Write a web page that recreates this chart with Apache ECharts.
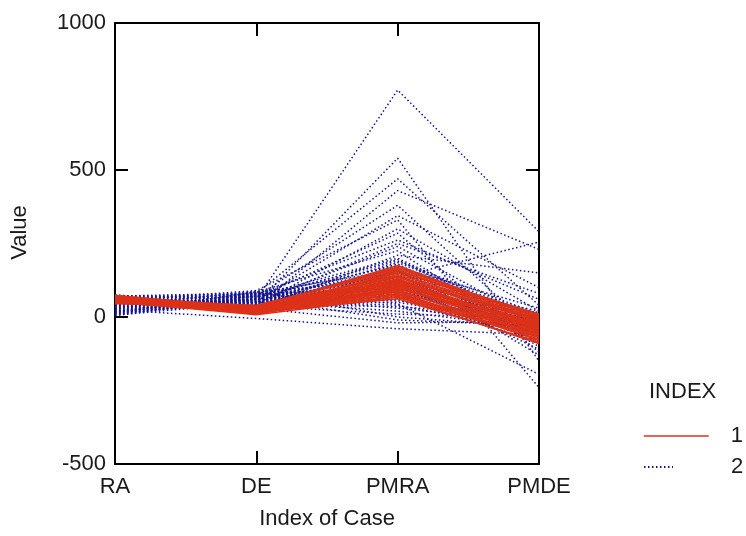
<!DOCTYPE html>
<html>
<head>
<meta charset="utf-8">
<script src="https://cdn.jsdelivr.net/npm/echarts@6/dist/echarts.min.js"></script>
<style>
html,body{margin:0;padding:0;background:#fff;}
#chart{width:746px;height:536px;}
</style>
</head>
<body>
<div id="chart"></div>
<script>
var categories = ['RA', 'DE', 'PMRA', 'PMDE'];
var yTicks = [-500, 0, 500, 1000];

// Group 1 (INDEX = 1), one entry per case
var g1RA   = [62, 58, 65, 55, 70, 60, 52, 67, 63, 57, 72, 48, 61, 66, 54, 59, 69, 64, 50, 56, 68, 62, 45, 71, 58, 60, 53, 66, 63, 57, 49, 74, 61, 55, 65, 59];
var g1DE   = [22, 18, 30, 12, 25, 35, 15, 28, 20, 10, 32, 24, 16, 38, 27, 14, 21, 33, 19, 26, 12, 29, 36, 17, 23, 31, 8, 25, 34, 20, 13, 28, 18, 40, 22, 15];
var g1PMRA = [95, 120, 150, 80, 110, 165, 70, 135, 100, 88, 175, 125, 62, 140, 105, 92, 155, 115, 75, 130, 98, 145, 160, 85, 118, 108, 68, 128, 170, 102, 78, 138, 112, 158, 90, 122];
var g1PMDE = [-20, -45, -10, -60, -30, 5, -75, -25, -40, -55, -5, -35, -85, -15, -50, -65, 10, -28, -70, -38, -48, -12, -2, -80, -33, -22, -90, -42, 0, -58, -68, -18, -52, -8, -62, -26];

// Group 2 (INDEX = 2)
var g2RA   = [35, 60, 20, 72, 45, 10, 55, 30, 68, 15, 50, 40, 75, 25, 62, 5, 48, 33, 70, 18, 58, 42, 28, 65, 12, 52, 38, 74, 22, 46, 8, 60, 30, 55, 16, 66, 40, 26, 72, 50, 14, 36, 62, 20, 44, 68, 28, 56, 10, 32, 48, 24, 64, 38, 54, 18, 70, 42, 6, 58];
var g2DE   = [60, 45, 80, 35, 70, 55, 90, 40, 65, 75, 50, 85, 30, 62, 48, 72, 38, 58, 82, 44, 68, 52, 78, 34, 64, 46, 88, 56, 40, 74, 60, 32, 70, 50, 84, 42, 66, 54, 76, 36, 62, 48, 80, 58, 44, 70, 52, 38, 86, 64, 30, -5, 72, 46, 56, 68, 40, 60, 50, 78];
var g2PMRA = [772, 540, 470, 430, 380, 345, 330, 300, 285, 262, 240, 225, 210, 195, 185, 175, 170, 165, 160, 155, 150, 145, 140, 135, 130, 125, 120, 115, 110, 105, 100, 95, 92, 88, 85, 80, 75, 70, 65, 60, 55, 50, 45, 40, 35, 30, 20, 10, 0, -10, -20, -40, 200, 250, 180, 190, 160, 140, 120, 100];
var g2PMDE = [290, -150, 40, 230, -60, 100, -240, 20, -120, 60, -20, -90, 150, -40, 0, -70, 30, -100, -10, -50, 10, -80, -30, 255, -60, 20, -110, -20, -45, -5, -70, 15, -35, -55, -15, -90, 5, -40, -25, -60, -10, -30, -195, -50, 0, -20, -40, -5, -35, -30, -15, -60, -25, 80, -45, 10, -130, -65, -5, -85];

var FONT = 'Liberation Sans, Arial, sans-serif';
var TXT = '#1a1a1a';
var RED = '#dc3218';
var BLUE = '#16168c';

var series = [];
for (var i = 0; i < g2RA.length; i++) {
  series.push({
    name: '2', type: 'line', symbol: 'none', showSymbol: false, silent: true, animation: false,
    data: [g2RA[i], g2DE[i], g2PMRA[i], g2PMDE[i]],
    lineStyle: { color: BLUE, width: 1.5, type: [1.5, 2.5] },
    itemStyle: { color: BLUE }
  });
}
for (var j = 0; j < g1RA.length; j++) {
  series.push({
    name: '1', type: 'line', symbol: 'none', showSymbol: false, silent: true, animation: false,
    data: [g1RA[j], g1DE[j], g1PMRA[j], g1PMDE[j]],
    lineStyle: { color: RED, width: 1.5, type: 'solid' },
    itemStyle: { color: RED }
  });
}

var chart = echarts.init(document.getElementById('chart'), null, { renderer: 'canvas' });
var axisLine = { show: true, onZero: false, lineStyle: { color: '#000', width: 2 } };
var tick = { show: true, inside: true, length: 13, lineStyle: { color: '#000', width: 2 } };
chart.setOption({
  backgroundColor: '#fff',
  animation: false,
  title: {
    text: 'INDEX', left: 644, top: 376,
    textStyle: { fontFamily: FONT, fontSize: 22, fontWeight: 'normal', color: TXT }
  },
  legend: [
    {
      data: ['1'], orient: 'vertical', left: 643, top: 425, padding: 0,
      itemWidth: 65, itemHeight: 14, selectedMode: false,
      itemStyle: { opacity: 0 },
      lineStyle: { width: 1.5 },
      textStyle: { fontFamily: FONT, fontSize: 22, color: TXT, padding: [0, 0, 0, 17] }
    },
    {
      data: ['2'], orient: 'vertical', left: 643, top: 456, padding: 0,
      itemWidth: 29, itemHeight: 14, selectedMode: false,
      itemStyle: { opacity: 0 },
      textStyle: { fontFamily: FONT, fontSize: 22, color: TXT, padding: [0, 0, 0, 53] }
    }
  ],
  grid: { left: 115, right: 207, top: 23, bottom: 72, containLabel: false },
  xAxis: [
    {
      type: 'category', data: categories, boundaryGap: false, position: 'bottom',
      axisLine: axisLine, axisTick: tick, splitLine: { show: false },
      axisLabel: { fontFamily: FONT, fontSize: 22, color: TXT, margin: 12 },
      name: 'Index of Case', nameLocation: 'middle', nameGap: 44,
      nameTextStyle: { fontFamily: FONT, fontSize: 22, color: TXT }
    },
    {
      type: 'category', data: categories, boundaryGap: false, position: 'top',
      axisLine: axisLine, axisTick: tick, axisLabel: { show: false }, splitLine: { show: false }
    }
  ],
  yAxis: [
    {
      type: 'value', min: yTicks[0], max: yTicks[yTicks.length - 1], interval: 500, position: 'left',
      axisLine: axisLine, axisTick: tick, splitLine: { show: false },
      axisLabel: { fontFamily: FONT, fontSize: 22, color: TXT, margin: 9, formatter: function (v) { return String(v); } },
      name: 'Value', nameLocation: 'middle', nameGap: 84,
      nameTextStyle: { fontFamily: FONT, fontSize: 22, color: TXT, padding: [0, 0, 0, 22] }
    },
    {
      type: 'value', min: yTicks[0], max: yTicks[yTicks.length - 1], interval: 500, position: 'right',
      axisLine: axisLine, axisTick: tick, axisLabel: { show: false }, splitLine: { show: false }
    }
  ],
  series: series
});
</script>
</body>
</html>
